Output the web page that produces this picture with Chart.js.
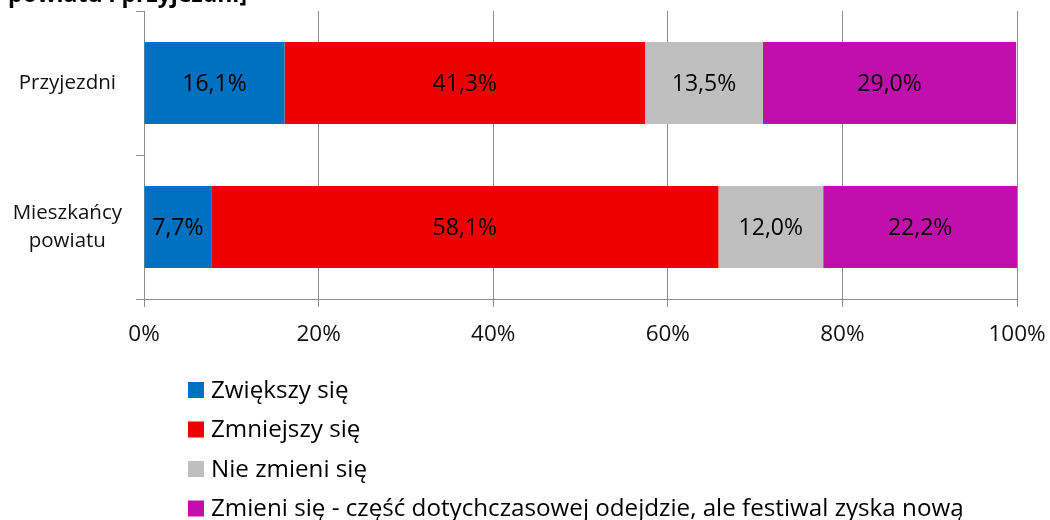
<!DOCTYPE html>
<html><head><meta charset="utf-8">
<script src="https://cdn.jsdelivr.net/npm/chart.js@4/dist/chart.umd.min.js"></script>
<style>html,body{margin:0;padding:0;background:#fff}#wrap{width:1050px;height:520px;position:relative}</style>
</head><body><div id="wrap"><canvas id="c" width="1050" height="520"></canvas></div>
<script>
// ---- data ----
const categories = [["Przyjezdni"], ["Mieszkańcy", "powiatu"]];
const seriesNames = [
  "Zwiększy się",
  "Zmniejszy się",
  "Nie zmieni się",
  "Zmieni się - część dotychczasowej odejdzie, ale festiwal zyska nową"
];
const zwiekszySie = [16.1, 7.7];
const zmniejszySie = [41.3, 58.1];
const nieZmieniSie = [13.5, 12.0];
const zmieniSie = [29.0, 22.2];
const xTickValues = [0, 20, 40, 60, 80, 100];
const titleText = "powiatu i przyjezdni]";

// ---- styles ----
const colors = ["#0070C0", "#EE0000", "#BFBFBF", "#C00FAA"];
const FONT = "'Open Sans', 'Noto Sans', sans-serif";
const gridColor = "#8C8C8C";

const labelPlugin = {
  id: 'segLabels',
  afterDatasetsDraw(chart) {
    const ctx = chart.ctx;
    ctx.save();
    ctx.font = "23px " + FONT;
    ctx.fillStyle = "#000";
    ctx.textAlign = "center";
    ctx.textBaseline = "middle";
    chart.data.datasets.forEach((ds, di) => {
      const meta = chart.getDatasetMeta(di);
      meta.data.forEach((bar, i) => {
        const v = ds.data[i];
        const cx = (bar.x + bar.base) / 2;
        ctx.fillText(v.toFixed(1).replace('.', ',') + '%', cx, bar.y + 1.5);
      });
    });
    ctx.restore();
  }
};

const legendPlugin = {
  id: 'vertLegend',
  afterDraw(chart) {
    const ctx = chart.ctx;
    ctx.save();
    ctx.font = "24.2px " + FONT;
    ctx.textAlign = "left";
    ctx.textBaseline = "alphabetic";
    chart.data.datasets.forEach((ds, i) => {
      const cy = 390 + i * 39.5;
      ctx.fillStyle = ds.backgroundColor;
      ctx.fillRect(188, cy - 8, 16, 16);
      ctx.fillStyle = "#000";
      ctx.fillText(ds.label, 211, cy + 7.5);
    });
    ctx.restore();
  }
};

const titlePlugin = {
  id: 'cutTitle',
  afterDraw(chart) {
    const ctx = chart.ctx;
    ctx.save();
    ctx.font = "bold 23px " + FONT;
    ctx.fillStyle = "#000";
    ctx.textAlign = "right";
    ctx.textBaseline = "alphabetic";
    ctx.fillText(titleText, 247, 1.5);
    ctx.restore();
  }
};

const seriesData = [zwiekszySie, zmniejszySie, nieZmieniSie, zmieniSie];

new Chart(document.getElementById('c'), {
  type: 'bar',
  data: {
    labels: categories,
    datasets: seriesNames.map((name, i) => ({
      label: name,
      data: seriesData[i],
      backgroundColor: colors[i],
      borderWidth: 0,
      categoryPercentage: 1,
      barPercentage: 0.57
    }))
  },
  options: {
    indexAxis: 'y',
    responsive: false,
    animation: false,
    devicePixelRatio: 1,
    layout: { padding: { top: 11, right: 33, bottom: 161, left: 0 } },
    plugins: {
      legend: { display: false },
      tooltip: { enabled: false },
      title: { display: false }
    },
    scales: {
      x: {
        stacked: true,
        min: 0, max: 100,
        afterBuildTicks(scale) { scale.ticks = xTickValues.map(v => ({ value: v })); },
        afterFit(scale) { scale.height = 60; scale.paddingLeft = 0; scale.paddingRight = 0; },
        ticks: {
          callback: v => v + '%',
          font: { family: FONT, size: 22.5 },
          color: '#111',
          padding: 14,
          maxRotation: 0
        },
        grid: { color: gridColor, lineWidth: 1, tickLength: 8, drawOnChartArea: true },
        border: { display: true, color: gridColor, width: 1 }
      },
      y: {
        stacked: true,
        afterFit(scale) { scale.width = 144; scale.paddingTop = 0; scale.paddingBottom = 0; },
        ticks: {
          font: { family: FONT, size: 20.5, lineHeight: 1.34 },
          color: '#111',
          padding: 14,
          crossAlign: 'center'
        },
        grid: { color: gridColor, lineWidth: 1, tickLength: 8, drawOnChartArea: false, offset: true },
        border: { display: true, color: gridColor, width: 1 }
      }
    }
  },
  plugins: [labelPlugin, legendPlugin, titlePlugin]
});
</script>
</body></html>
